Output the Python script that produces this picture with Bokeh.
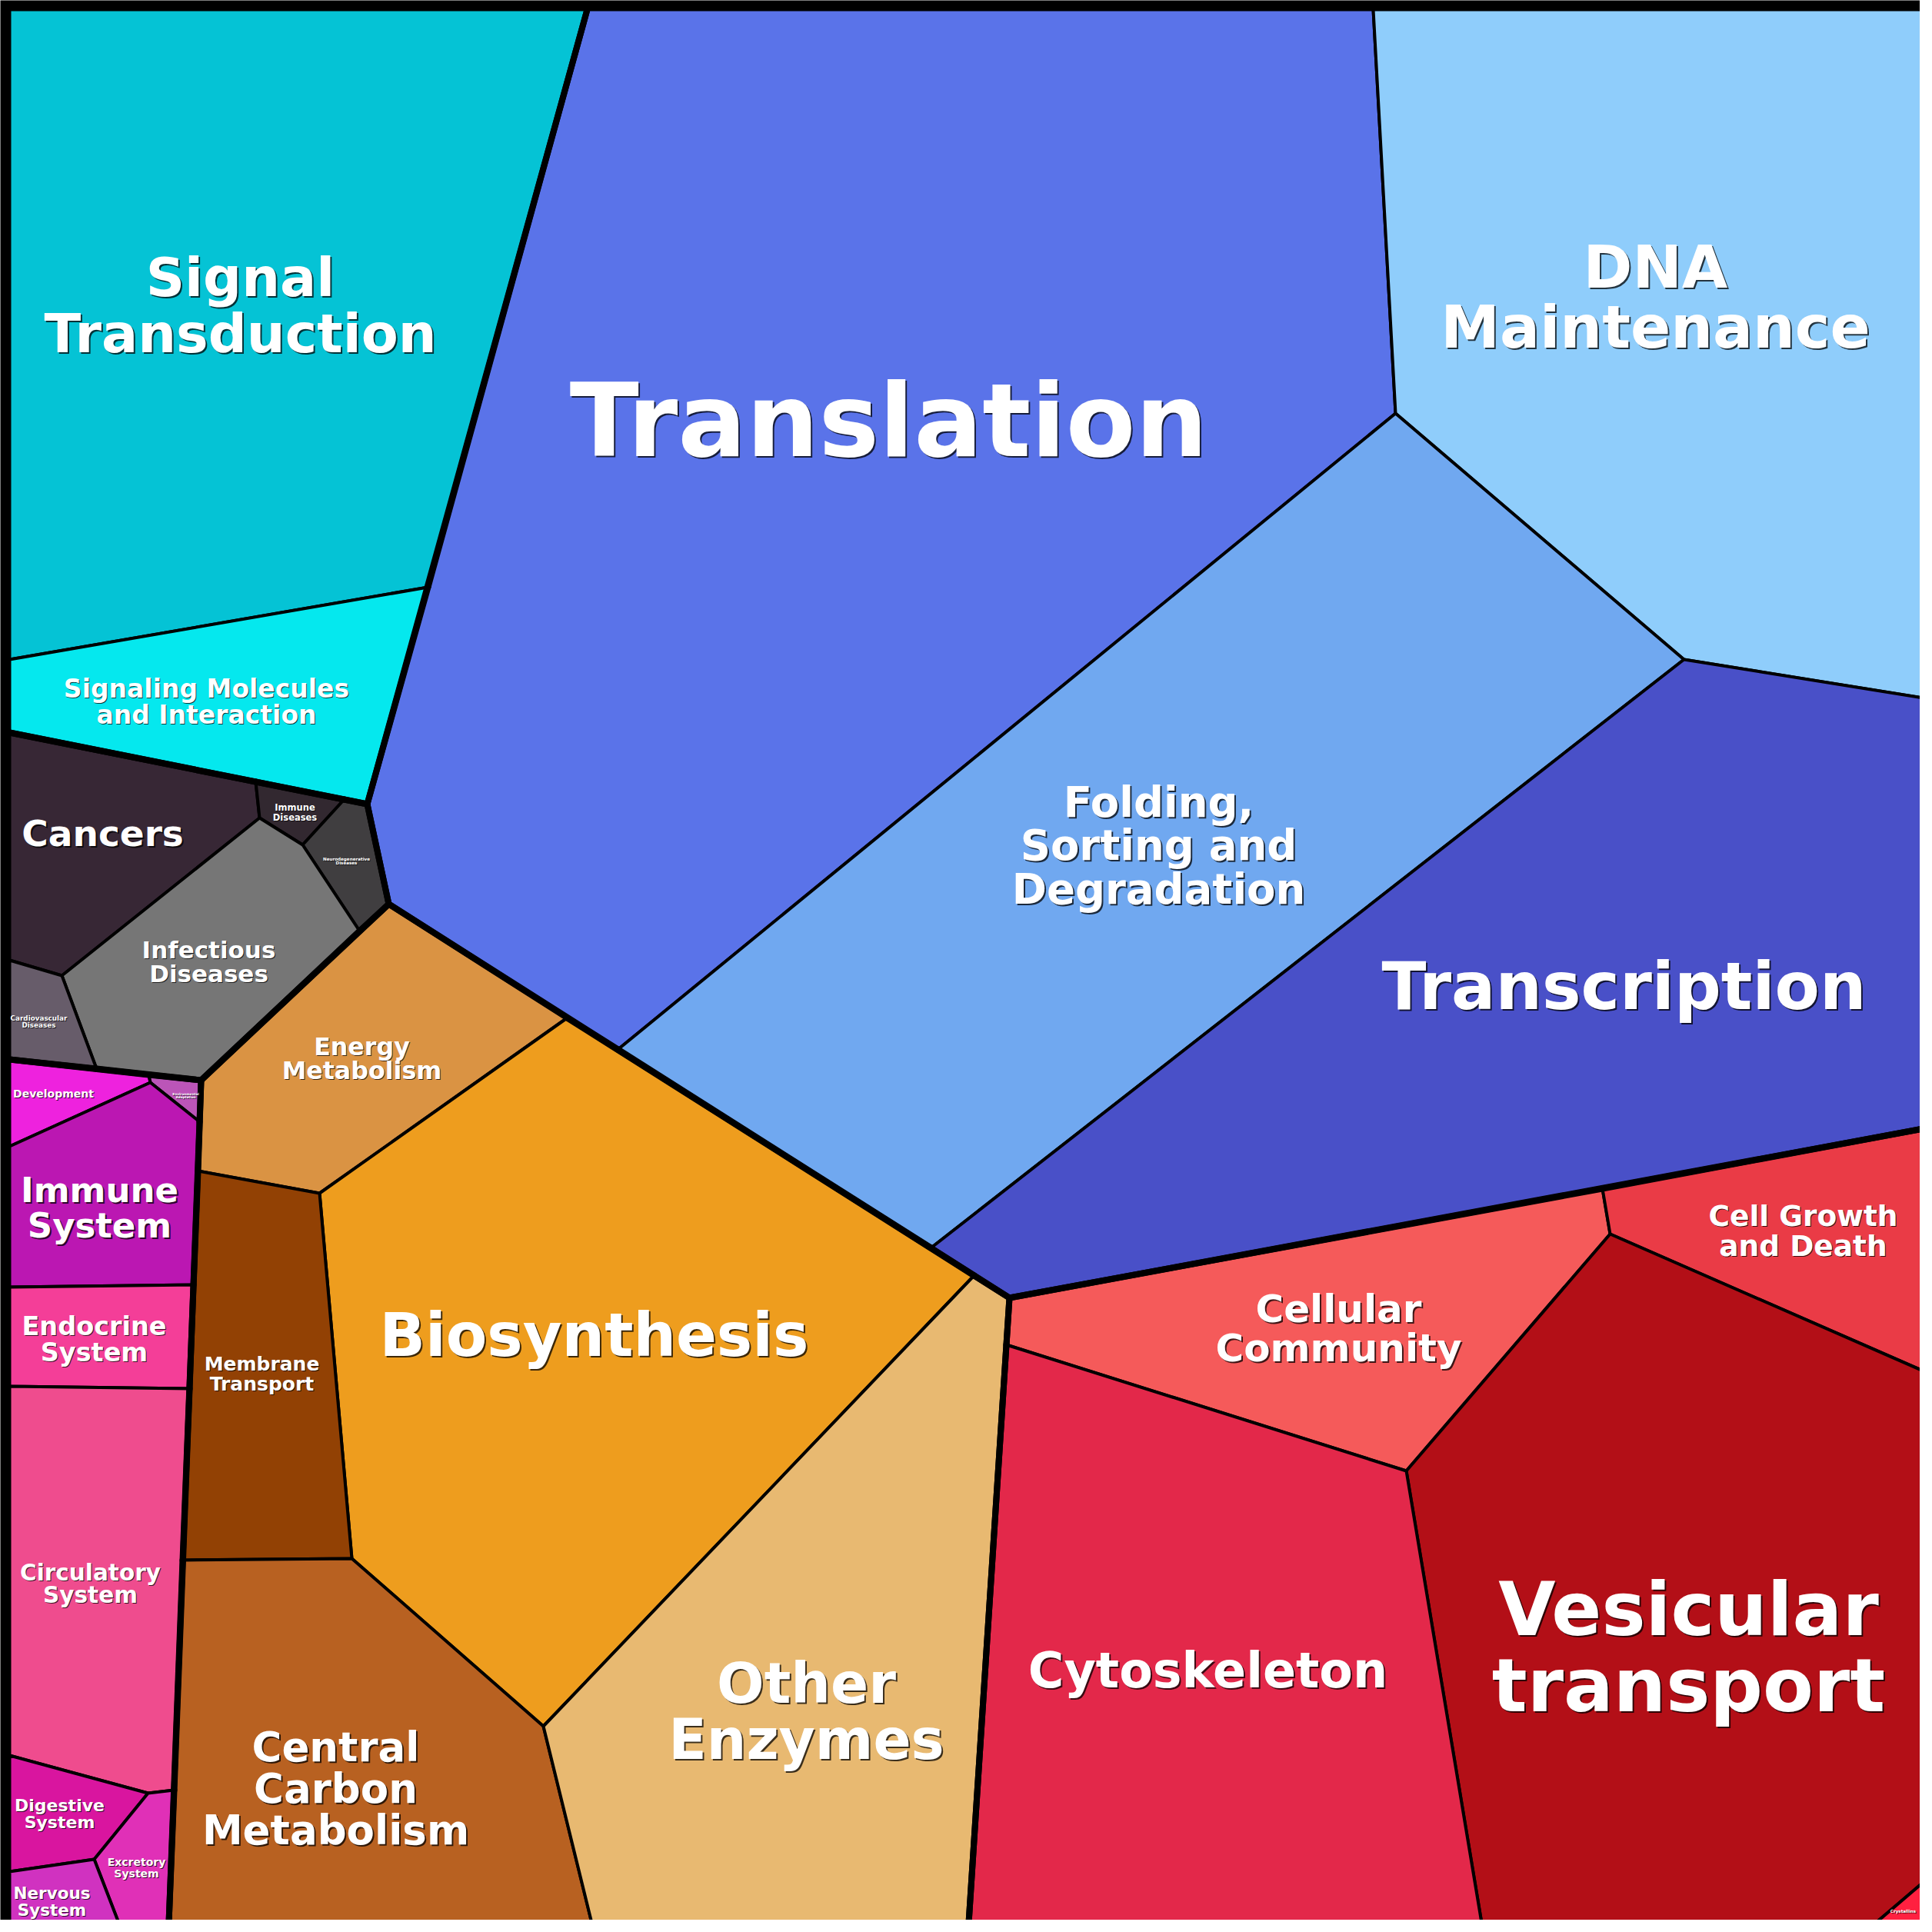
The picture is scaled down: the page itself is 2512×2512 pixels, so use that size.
from bokeh.plotting import figure
from bokeh.models import Range1d, ColumnDataSource
from bokeh.core.properties import value, field
from bokeh.embed import file_html
from bokeh.resources import INLINE

# ---- data: Voronoi treemap cells (polygon vertices and seed sites, image pixels) ----
cell_names = [
    "Translation", "DNA Maintenance", "Folding, Sorting and Degradation", "Transcription",
    "Signal Transduction", "Signaling Molecules and Interaction",
    "Cancers", "Immune Diseases", "Neurodegenerative Diseases", "Infectious Diseases", "Cardiovascular Diseases",
    "Energy Metabolism", "Biosynthesis", "Membrane Transport", "Central Carbon Metabolism", "Other Enzymes",
    "Development", "Environmental Adaptation", "Immune System", "Endocrine System", "Circulatory System",
    "Digestive System", "Excretory System", "Nervous System",
    "Cellular Community", "Cell Growth and Death", "Vesicular transport", "Crystallins", "Cytoskeleton",
]
cell_groups = [
    "Genetic", "Genetic", "Genetic", "Genetic",
    "Environmental", "Environmental",
    "Diseases", "Diseases", "Diseases", "Diseases", "Diseases",
    "Metabolism", "Metabolism", "Metabolism", "Metabolism", "Metabolism",
    "Organismal", "Organismal", "Organismal", "Organismal", "Organismal",
    "Organismal", "Organismal", "Organismal",
    "Cellular", "Cellular", "Cellular", "Cellular", "Cellular",
]
cell_labels = [
    "Translation", "DNA\nMaintenance", "Folding,\nSorting and\nDegradation", "Transcription",
    "Signal\nTransduction", "Signaling Molecules\nand Interaction",
    "Cancers", "Immune\nDiseases", "Neurodegenerative\nDiseases", "Infectious\nDiseases", "Cardiovascular\nDiseases",
    "Energy\nMetabolism", "Biosynthesis", "Membrane\nTransport", "Central\nCarbon\nMetabolism", "Other\nEnzymes",
    "Development", "Environmental\nAdaptation", "Immune\nSystem", "Endocrine\nSystem", "Circulatory\nSystem",
    "Digestive\nSystem", "Excretory\nSystem", "Nervous\nSystem",
    "Cellular\nCommunity", "Cell Growth\nand Death", "Vesicular\ntransport", "Crystallins", "Cytoskeleton",
]
cell_xs = [
    [477, 763, 1785, 1814, 803, 505],
    [1785, 2500, 2500, 2189, 1814],
    [1814, 2189, 1210, 803],
    [2189, 2500, 2500, 1312, 1210],
    [12, 763, 556, 12],
    [12, 556, 477, 12],
    [12, 332, 337, 80, 12],
    [332, 447, 393, 337],
    [447, 477, 505, 467, 393],
    [337, 393, 467, 261, 125, 80],
    [12, 80, 125, 12],
    [505, 737, 415, 257, 261],
    [737, 1266, 706, 457, 415],
    [257, 415, 457, 237],
    [237, 457, 706, 769, 219],
    [1266, 1312, 1259, 769, 706],
    [12, 193, 195, 12],
    [193, 261, 259, 195],
    [12, 195, 259, 251, 12],
    [12, 251, 246, 12],
    [12, 246, 226, 192, 12],
    [12, 192, 122, 12],
    [192, 226, 219, 154, 122],
    [12, 122, 154, 12],
    [1312, 2083, 2093, 1828, 1308],
    [2083, 2500, 2500, 2093],
    [2093, 2500, 2500, 2438, 1926, 1828],
    [2500, 2500, 2438],
    [1308, 1828, 1926, 1259],
]
cell_ys = [
    [1045, 12, 12, 537, 1364, 1175],
    [12, 12, 907, 857, 537],
    [537, 857, 1622, 1364],
    [857, 907, 1467, 1687, 1622],
    [12, 12, 763, 857],
    [857, 763, 1045, 952],
    [952, 1016, 1063, 1268, 1248],
    [1016, 1039, 1098, 1063],
    [1039, 1045, 1175, 1210, 1098],
    [1063, 1098, 1210, 1404, 1389, 1268],
    [1248, 1268, 1389, 1377],
    [1175, 1323, 1551, 1522, 1404],
    [1323, 1658, 2244, 2026, 1551],
    [1522, 1551, 2026, 2028],
    [2028, 2026, 2244, 2500, 2500],
    [1658, 1687, 2500, 2500, 2244],
    [1377, 1397, 1407, 1490],
    [1397, 1404, 1458, 1407],
    [1490, 1407, 1458, 1670, 1673],
    [1673, 1670, 1805, 1802],
    [1802, 1805, 2327, 2331, 2282],
    [2282, 2331, 2417, 2433],
    [2331, 2327, 2500, 2500, 2417],
    [2433, 2417, 2500, 2500],
    [1687, 1545, 1604, 1912, 1748],
    [1545, 1467, 1782, 1604],
    [1604, 1782, 2447, 2500, 2500, 1912],
    [2447, 2500, 2500],
    [1748, 1912, 2500, 2500],
]
site_x = [
    1155, 2152, 1506, 2111,
    312, 268,
    133, 383, 450, 271, 50,
    470, 772, 340, 436, 1048,
    69, 241, 129, 122, 117,
    77, 177, 67,
    1740, 2344, 2195, 2474, 1570,
]
site_y = [
    546, 386, 1099, 1282,
    397, 912,
    1083, 1056, 1119, 1250, 1328,
    1376, 1735, 1786, 2325, 2225,
    1421, 1424, 1570, 1741, 2059,
    2358, 2428, 2472,
    1727, 1600, 2142, 2484, 2171,
]

# ---- styles ----
cell_colors = [
    "#5A73E9", "#8FCDFB", "#70A8F0", "#4950C8",
    "#05C3D5", "#05E8EE",
    "#372735", "#322830", "#403E40", "#767676", "#675C6A",
    "#DA9343", "#EE9D1E", "#924104", "#B86121", "#E8B971",
    "#EE22DE", "#BB55B8", "#BB17B2", "#F43E98", "#EF4C8E",
    "#D9159F", "#E030B7", "#D032C0",
    "#F55A5A", "#EA3B46", "#B30F17", "#FF2040", "#E3284A",
]
label_px = [
    132, 77, 54.5, 85,
    70, 33,
    47, 11.5, 5.6, 31, 8.8,
    31.7, 78, 25, 53, 72.5,
    14, 4.2, 45, 33.5, 29.5,
    22, 14, 21.5,
    50, 37.5, 96, 5.6, 63.5,
]
FRAME_LO, FRAME_HI = 12, 2500
CANVAS = 2496

# group boundaries: edges not shared with a cell of the same group
edge_count = {}
edge_pts = {}
for g, xs, ys in zip(cell_groups, cell_xs, cell_ys):
    n = len(xs)
    for i in range(n):
        a = (xs[i], ys[i])
        b = (xs[(i + 1) % n], ys[(i + 1) % n])
        key = (g, frozenset([a, b]))
        edge_count[key] = edge_count.get(key, 0) + 1
        edge_pts[key] = (a, b)
thick_xs, thick_ys = [], []
for key, c in edge_count.items():
    if c != 1:
        continue
    a, b = edge_pts[key]
    on_frame = (a[0] == b[0] and a[0] in (FRAME_LO, FRAME_HI)) or (a[1] == b[1] and a[1] in (FRAME_LO, FRAME_HI))
    if on_frame:
        continue
    thick_xs.append([a[0], b[0]])
    thick_ys.append([a[1], b[1]])

p = figure(width=CANVAS, height=CANVAS, x_range=Range1d(0, CANVAS), y_range=Range1d(CANVAS, 0),
           output_backend="svg", toolbar_location=None, min_border=0,
           x_axis_location=None, y_axis_location=None)
p.grid.visible = False
p.outline_line_color = None
p.background_fill_color = "black"
p.border_fill_color = "black"

cells = ColumnDataSource(dict(xs=cell_xs, ys=cell_ys, color=cell_colors, name=cell_names))
p.patches("xs", "ys", source=cells, fill_color="color", line_color="black", line_width=4,
          line_join="round")
p.multi_line(thick_xs, thick_ys, line_color="black", line_width=8, line_cap="round")

labels = ColumnDataSource(dict(
    x=site_x, y=site_y, text=cell_labels,
    fs=["%gpx" % s for s in label_px],
    off=[2 if s >= 40 else 1 for s in label_px],
))
common = dict(x="x", y="y", text="text", source=labels, text_font=value("DejaVu Sans"),
              text_font_style="bold", text_font_size=field("fs"), text_align="center",
              text_baseline="middle", text_line_height=0.88)
p.text(text_color="black", text_alpha=0.75, x_offset=field("off"), y_offset=field("off"), **common)
p.text(text_color="white", **common)

open("out.html", "w").write(file_html(p, INLINE))
